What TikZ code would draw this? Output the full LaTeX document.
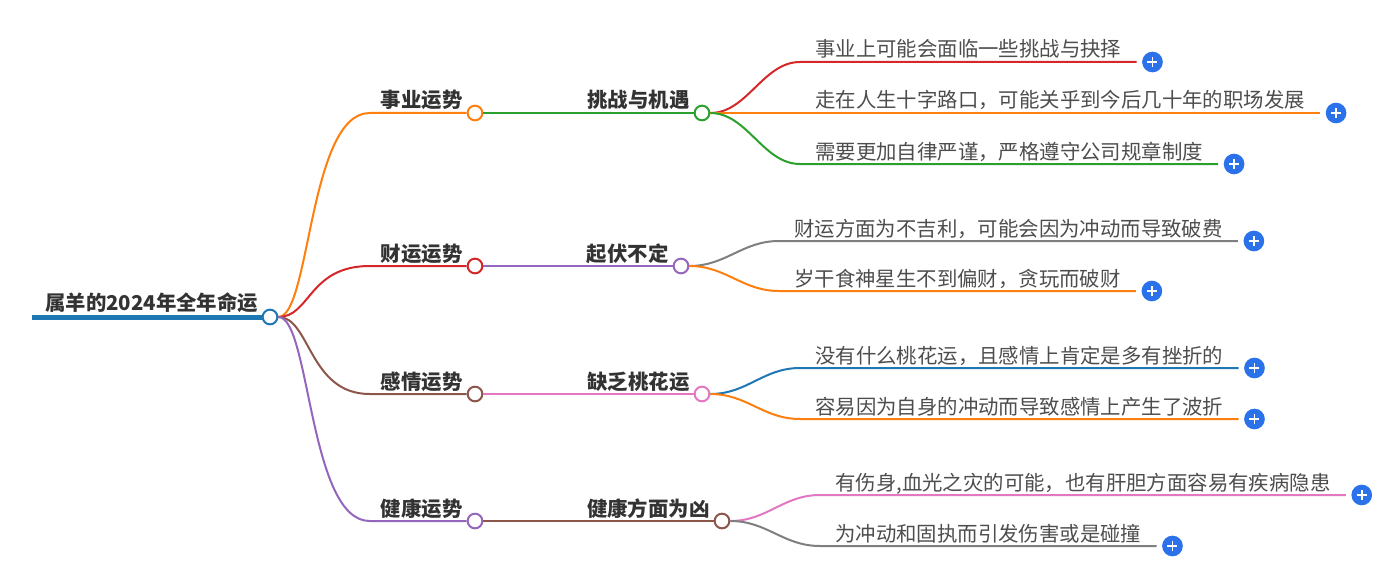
\documentclass[tikz,border=0pt]{standalone}
\usepackage{fontspec}
\setmainfont{Noto Sans CJK SC}
\usetikzlibrary{positioning,calc}
\definecolor{mblue}{HTML}{1F77B4}
\definecolor{morange}{HTML}{FF7F0E}
\definecolor{mgreen}{HTML}{2CA02C}
\definecolor{mred}{HTML}{D62728}
\definecolor{mpurple}{HTML}{9467BD}
\definecolor{mbrown}{HTML}{8C564B}
\definecolor{mpink}{HTML}{E377C2}
\definecolor{mgray}{HTML}{7F7F7F}
\definecolor{iconblue}{HTML}{2B72EA}
\definecolor{darktext}{HTML}{333333}
\definecolor{leaftext}{HTML}{4D4D4D}
\begin{document}
\begin{tikzpicture}[x=0.75pt,y=0.75pt,yscale=-1,xscale=1,
  dot/.style={circle,draw=#1,fill=white,line width=1.5pt,minimum size=11pt,inner sep=0pt},
  branch/.style={draw=#1,line width=1.5pt},
  head/.style={inner sep=0pt,text=darktext,font=\fontsize{15.3pt}{18pt}\selectfont\bfseries},
  leaf/.style={inner sep=0pt,text=leaftext,font=\fontsize{15.3pt}{18pt}\selectfont},
  addicon/.style={circle,fill=iconblue,minimum size=15.5pt,inner sep=0pt,
    path picture={\draw[white,line width=1.2pt]
      ($(path picture bounding box.center)+(-5,0)$) -- ++(10,0)
      ($(path picture bounding box.center)+(0,-5)$) -- ++(0,10);}}]
\useasboundingbox (0,0) rectangle (1382,567);

%Root
\node[dot=mblue] (root) at (270,317) {};
\node[head,anchor=base west] (root-t) at (45,310) {属羊的2024年全年命运};
\coordinate (root-in) at (32,317);
\draw[branch=mblue,line width=3.75pt] (root-in) -- (root.west);

%Level one
\node[dot=morange] (career) at (475,113) {};
\node[dot=mred] (wealth) at (475,266) {};
\node[dot=mbrown] (love) at (475,394) {};
\node[dot=mpurple] (health) at (475,521) {};
\node[head,anchor=base east] (career-t) at ($(career.west)+(-4,-5)$) {事业运势};
\node[head,anchor=base east] (wealth-t) at ($(wealth.west)+(-4,-5)$) {财运运势};
\node[head,anchor=base east] (love-t) at ($(love.west)+(-4,-5)$) {感情运势};
\node[head,anchor=base east] (health-t) at ($(health.west)+(-4,-5)$) {健康运势};

\draw[branch=morange] (root.east) .. controls +(32,0) and +(-61,0) .. ($(career.west)+(-97,0)$) -- (career.west);
\draw[branch=mred] (root.east) .. controls +(32,0) and +(-61,0) .. ($(wealth.west)+(-97,0)$) -- (wealth.west);
\draw[branch=mbrown] (root.east) .. controls +(32,0) and +(-61,0) .. ($(love.west)+(-97,0)$) -- (love.west);
\draw[branch=mpurple] (root.east) .. controls +(32,0) and +(-61,0) .. ($(health.west)+(-97,0)$) -- (health.west);

%Level two
\node[dot=mgreen] (chal) at (702,113) {};
\node[dot=mpurple] (flux) at (681,266) {};
\node[dot=mpink] (peach) at (702,394) {};
\node[dot=mbrown] (ill) at (722,521) {};
\node[head,anchor=base east] (chal-t) at ($(chal.west)+(-4,-5)$) {挑战与机遇};
\node[head,anchor=base east] (flux-t) at ($(flux.west)+(-4,-5)$) {起伏不定};
\node[head,anchor=base east] (peach-t) at ($(peach.west)+(-4,-5)$) {缺乏桃花运};
\node[head,anchor=base east] (ill-t) at ($(ill.west)+(-4,-5)$) {健康方面为凶};

\draw[branch=mgreen] (career.east) -- (chal.west);
\draw[branch=mpurple] (wealth.east) -- (flux.west);
\draw[branch=mpink] (love.east) -- (peach.west);
\draw[branch=mbrown] (health.east) -- (ill.west);

%Leaves
\coordinate (a1) at (800,62);
\coordinate (a2) at (800,113);
\coordinate (a3) at (800,164);
\coordinate (b1) at (779,241);
\coordinate (b2) at (779,291);
\coordinate (c1) at (800,368);
\coordinate (c2) at (800,419);
\coordinate (d1) at (820,495);
\coordinate (d2) at (820,546);
\node[leaf,anchor=base west] (a1-t) at ($(a1)+(15,-5)$) {事业上可能会面临一些挑战与抉择};
\node[leaf,anchor=base west] (a2-t) at ($(a2)+(15,-5)$) {走在人生十字路口，可能关乎到今后几十年的职场发展};
\node[leaf,anchor=base west] (a3-t) at ($(a3)+(15,-5)$) {需要更加自律严谨，严格遵守公司规章制度};
\node[leaf,anchor=base west] (b1-t) at ($(b1)+(15,-5)$) {财运方面为不吉利，可能会因为冲动而导致破费};
\node[leaf,anchor=base west] (b2-t) at ($(b2)+(15,-5)$) {岁干食神星生不到偏财，贪玩而破财};
\node[leaf,anchor=base west] (c1-t) at ($(c1)+(15,-5)$) {没有什么桃花运，且感情上肯定是多有挫折的};
\node[leaf,anchor=base west] (c2-t) at ($(c2)+(15,-5)$) {容易因为自身的冲动而导致感情上产生了波折};
\node[leaf,anchor=base west] (d1-t) at ($(d1)+(15,-5)$) {有伤身,血光之灾的可能，也有肝胆方面容易有疾病隐患};
\node[leaf,anchor=base west] (d2-t) at ($(d2)+(15,-5)$) {为冲动和固执而引发伤害或是碰撞};

\draw[branch=mred] (chal.east) .. controls +(37,0) and +(-37,0) .. (a1) -- ($(a1-t.base east)+(15,5)$) coordinate (a1-e);
\draw[branch=morange] (chal.east) -- (a2) -- ($(a2-t.base east)+(15,5)$) coordinate (a2-e);
\draw[branch=mgreen] (chal.east) .. controls +(37,0) and +(-37,0) .. (a3) -- ($(a3-t.base east)+(15,5)$) coordinate (a3-e);
\draw[branch=mgray] (flux.east) .. controls +(37,0) and +(-37,0) .. (b1) -- ($(b1-t.base east)+(15,5)$) coordinate (b1-e);
\draw[branch=morange] (flux.east) .. controls +(37,0) and +(-37,0) .. (b2) -- ($(b2-t.base east)+(15,5)$) coordinate (b2-e);
\draw[branch=mblue] (peach.east) .. controls +(37,0) and +(-37,0) .. (c1) -- ($(c1-t.base east)+(15,5)$) coordinate (c1-e);
\draw[branch=morange] (peach.east) .. controls +(37,0) and +(-37,0) .. (c2) -- ($(c2-t.base east)+(15,5)$) coordinate (c2-e);
\draw[branch=mpink] (ill.east) .. controls +(37,0) and +(-37,0) .. (d1) -- ($(d1-t.base east)+(15,5)$) coordinate (d1-e);
\draw[branch=mgray] (ill.east) .. controls +(37,0) and +(-37,0) .. (d2) -- ($(d2-t.base east)+(15,5)$) coordinate (d2-e);

\node[addicon,right=4pt of a1-e] (a1-p) {};
\node[addicon,right=4pt of a2-e] (a2-p) {};
\node[addicon,right=4pt of a3-e] (a3-p) {};
\node[addicon,right=4pt of b1-e] (b1-p) {};
\node[addicon,right=4pt of b2-e] (b2-p) {};
\node[addicon,right=4pt of c1-e] (c1-p) {};
\node[addicon,right=4pt of c2-e] (c2-p) {};
\node[addicon,right=4pt of d1-e] (d1-p) {};
\node[addicon,right=4pt of d2-e] (d2-p) {};
\end{tikzpicture}
\end{document}
